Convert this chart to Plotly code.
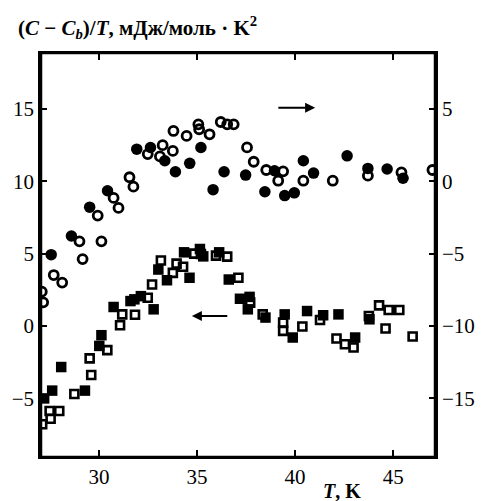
import plotly.graph_objects as go

# Open circles (right axis)
oc_T = [27.09, 27.16, 27.70, 28.13, 29.17, 29.01, 30.13, 29.94, 30.75, 31.00, 31.56, 31.76,
        32.49, 33.11, 33.25, 33.77, 33.80, 34.47, 35.07, 35.11, 35.64, 36.21, 36.54, 36.87,
        37.55, 37.89, 38.53, 39.39, 39.14, 40.42, 41.92, 43.71, 45.42, 47.00]
oc_v = [-7.63, -8.37, -6.48, -7.00, -5.38, -4.15, -4.15, -2.37, -1.15, -1.84, 0.28, -0.37,
        1.88, 1.72, 2.50, 2.10, 3.48, 3.14, 3.94, 3.60, 3.25, 4.10, 3.94, 3.94,
        2.34, 1.35, 0.78, 0.69, 0.04, 0.04, 0.04, 0.39, 0.62, 0.78]

# Filled circles (right axis)
fc_T = [27.57, 28.60, 29.53, 30.44, 31.93, 32.63, 33.36, 33.90, 34.63, 35.20, 35.82, 36.38,
        37.48, 38.46, 38.95, 39.47, 39.96, 40.42, 40.94, 42.65, 43.71, 44.69, 45.50]
fc_v = [-5.07, -3.78, -1.79, -0.65, 2.22, 2.34, 1.42, 0.66, 1.24, 2.34, -0.58, 0.66,
        0.43, -0.72, 0.73, -0.99, -0.80, 1.42, 0.57, 1.76, 0.89, 0.85, 0.21]

# Filled squares (left axis)
fs_T = [27.21, 27.62, 28.08, 29.29, 30.02, 30.13, 30.75, 31.61, 31.81, 32.14, 32.79, 33.03,
        33.47, 34.34, 34.62, 35.15, 35.32, 36.13, 36.62, 37.19, 37.68, 37.59, 38.49, 39.47,
        39.88, 40.61, 41.43, 42.21, 43.06, 43.79]
fs_v = [-5.01, -4.47, -2.84, -4.47, -1.38, -0.64, 1.31, 1.72, 1.84, 2.06, 1.15, 3.90,
        3.16, 5.09, 3.33, 5.32, 4.81, 5.09, 3.21, 1.88, 2.01, 1.15, 0.58, 0.80,
        -0.80, 1.03, 0.74, 0.80, -0.80, 0.46]

# Open squares (left axis)
os_T = [27.11, 27.54, 27.49, 27.98, 28.75, 29.61, 29.53, 30.43, 31.08, 31.19, 31.84, 32.49,
        32.71, 33.16, 33.77, 33.96, 34.29, 34.86, 35.20, 35.97, 36.54, 37.11, 37.71, 38.35,
        39.39, 39.39, 40.37, 41.27, 42.11, 42.54, 42.98, 43.76, 44.28, 44.77, 45.31, 44.61, 45.99]
os_v = [-6.80, -6.42, -5.88, -5.88, -4.70, -3.39, -2.24, -1.67, 0.05, 0.80, 0.77, 1.95,
        2.87, 4.52, 3.67, 4.31, 4.09, 5.00, 4.97, 4.86, 4.79, 3.33, 1.61, 0.80,
        0.23, -0.34, -0.04, 0.41, -0.87, -1.26, -1.49, 0.69, 1.42, 1.10, 1.10, -0.18, -0.73]

x_ticks = [30, 35, 40, 45]
left_ticks = [-5, 0, 5, 10, 15]
right_ticks = [-15, -10, -5, 0, 5]

x_range = [27.05, 47.13]
left_range = [-9.06, 18.87]
right_range = [left_range[0] - 10, left_range[1] - 10]

FONT = "Liberation Serif"

fig = go.Figure()
fig.add_trace(go.Scatter(x=oc_T, y=oc_v, mode="markers", xaxis="x2", yaxis="y2",
                         marker=dict(symbol="circle-open", size=9, color="black",
                                     line=dict(width=2.8, color="black"))))
fig.add_trace(go.Scatter(x=fc_T, y=fc_v, mode="markers", xaxis="x2", yaxis="y2",
                         marker=dict(symbol="circle", size=11.5, color="black",
                                     line=dict(width=0))))
fig.add_trace(go.Scatter(x=fs_T, y=fs_v, mode="markers", yaxis="y",
                         marker=dict(symbol="square", size=10.5, color="black",
                                     line=dict(width=0))))
fig.add_trace(go.Scatter(x=os_T, y=os_v, mode="markers", yaxis="y",
                         marker=dict(symbol="square-open", size=8, color="black",
                                     line=dict(width=2.6, color="black"))))

fig.update_layout(
    width=487, height=501,
    margin=dict(l=36, r=40, t=53, b=42),
    paper_bgcolor="white", plot_bgcolor="white",
    showlegend=False,
    font=dict(family=FONT, size=20, color="black"),
    xaxis=dict(range=x_range, tickvals=x_ticks, ticktext=[str(v) for v in x_ticks],
               ticks="inside", ticklen=7, tickwidth=2,
               tickcolor="black", showline=True, linecolor="black", linewidth=2,
               showgrid=False, zeroline=False,
               tickfont=dict(family=FONT, size=21, color="black")),
    xaxis2=dict(range=x_range, tickvals=x_ticks, ticks="inside", ticklen=7, tickwidth=2,
                tickcolor="black", showline=True, linecolor="black", linewidth=2,
                overlaying="x", side="top", anchor="y2", showticklabels=False,
                showgrid=False, zeroline=False),
    yaxis=dict(range=left_range, tickvals=left_ticks, ticks="inside", ticklen=6, tickwidth=2,
               tickcolor="black", showline=True, linecolor="black", linewidth=2.5,
               showgrid=False, zeroline=False,
               ticktext=[str(v).replace("-", "\u2212") for v in left_ticks],
               tickfont=dict(family=FONT, size=21, color="black")),
    yaxis2=dict(range=right_range, tickvals=right_ticks, ticks="inside", ticklen=6, tickwidth=2,
                tickcolor="black", showline=True, linecolor="black", linewidth=2.5,
                overlaying="y", side="right", anchor="x2", showgrid=False, zeroline=False,
                ticktext=[str(v).replace("-", "\u2212") for v in right_ticks],
                tickfont=dict(family=FONT, size=21, color="black")),
)

# full frame around the plot area
fig.add_shape(type="rect", xref="paper", yref="paper", x0=0, x1=1, y0=0, y1=1,
              line=dict(color="black", width=2.5), fillcolor="rgba(0,0,0,0)", layer="above")

fig.add_annotation(xref="paper", yref="paper", x=-0.064, y=1.064, xanchor="left", yanchor="middle",
                   text="<b>(<i>C</i> \u2212 <i>C<sub>b</sub></i>)/<i>T</i>, мДж/моль \u00b7 K<sup>2</sup></b>",
                   showarrow=False, font=dict(family=FONT, size=21, color="black"))
fig.add_annotation(xref="paper", yref="paper", x=0.765, y=-0.052, xanchor="center", yanchor="top",
                   text="<b><i>T</i>, K</b>", showarrow=False,
                   font=dict(family=FONT, size=20, color="black"))

# Arrows indicating axis assignment
fig.add_annotation(x=41.02, y=15.09, ax=39.07, ay=15.09, xref="x", yref="y", axref="x", ayref="y",
                   text="", showarrow=True, arrowhead=2, arrowsize=1, arrowwidth=2, arrowcolor="black")
fig.add_annotation(x=34.74, y=0.69, ax=36.62, ay=0.69, xref="x", yref="y", axref="x", ayref="y",
                   text="", showarrow=True, arrowhead=2, arrowsize=1, arrowwidth=2, arrowcolor="black")

fig.write_html("out.html")
